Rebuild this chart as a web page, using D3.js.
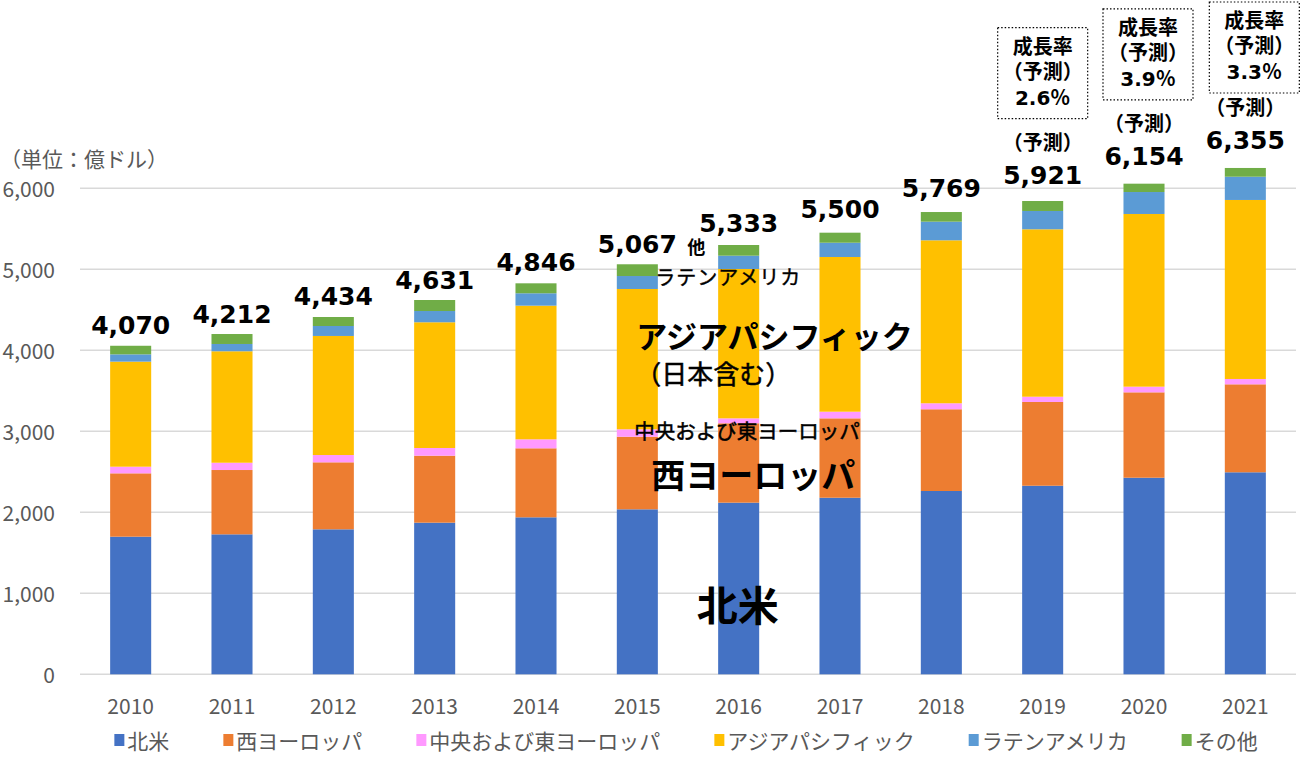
<!DOCTYPE html>
<html>
<head>
<meta charset="utf-8">
<script src="https://cdn.jsdelivr.net/npm/d3@7.9.0/dist/d3.min.js"></script>
<style>
  body { margin: 0; background: #fff; }
  svg { display: block; }
  .tick-label { font-family: "Noto Sans CJK JP", "Noto Sans", sans-serif; font-size: 21px; fill: #595959; }
  .total { font-family: "DejaVu Sans", "Noto Sans CJK JP", sans-serif; font-weight: bold; font-size: 25px; fill: #000; }
  .note { font-family: "DejaVu Sans", "Noto Sans CJK JP", sans-serif; font-weight: bold; font-size: 20px; fill: #000; }
  .region { font-family: "Noto Sans CJK JP", sans-serif; fill: #000; }
</style>
</head>
<body>
<svg id="chart"></svg>
<script>
const years = ['2010', '2011', '2012', '2013', '2014', '2015', '2016', '2017', '2018', '2019', '2020', '2021'];
const northAmerica = [1699, 1728, 1790, 1872, 1938, 2037, 2119, 2180, 2263, 2328, 2427, 2494];
const westernEurope = [782, 794, 827, 827, 852, 896, 980, 980, 1009, 1034, 1054, 1086];
const centralEastEurope = [82, 90, 90, 95, 111, 92, 61, 82, 74, 65, 70, 66];
const asiaPacific = [1297, 1376, 1470, 1552, 1650, 1732, 1844, 1910, 2012, 2067, 2132, 2210];
const latinAmerica = [90, 90, 123, 139, 153, 160, 164, 176, 230, 226, 271, 287];
const others = [106, 123, 111, 136, 123, 145, 132, 124, 119, 123, 103, 108];
const totalLabels = [4070, 4212, 4434, 4631, 4846, 5067, 5333, 5500, 5769, 5921, 6154, 6355];
const yTicks = [0, 1000, 2000, 3000, 4000, 5000, 6000];
const forecastYears = ['2019', '2020', '2021'];
const growthRates = ['2.6％', '3.9％', '3.3％'];

const seriesNames = ['北米', '西ヨーロッパ', '中央および東ヨーロッパ', 'アジアパシフィック', 'ラテンアメリカ', 'その他'];
const seriesValues = [northAmerica, westernEurope, centralEastEurope, asiaPacific, latinAmerica, others];
const colors = ['#4472C4', '#ED7D31', '#FF99FF', '#FFC000', '#5B9BD5', '#70AD47'];

const width = 1300;
const height = 757;

const table = years.map((year, i) => {
  const row = { year };
  seriesNames.forEach((name, j) => { row[name] = seriesValues[j][i]; });
  return row;
});

const svg = d3.select('#chart').attr('width', width).attr('height', height);

const x = d3.scaleBand().domain(years).range([80, 1296]).paddingInner(0.595).paddingOuter(0.2975);
const y = d3.scaleLinear().domain([0, 6000]).range([674.3, 188.3]);
const cx = yr => x(yr) + x.bandwidth() / 2;

// gridlines
svg.append('g')
  .selectAll('line')
  .data(yTicks)
  .join('line')
  .attr('x1', 80)
  .attr('x2', 1296)
  .attr('y1', d => y(d))
  .attr('y2', d => y(d))
  .attr('stroke', '#d9d9d9')
  .attr('stroke-width', 1.5);

// y labels
svg.append('g')
  .selectAll('text')
  .data(yTicks)
  .join('text')
  .attr('class', 'tick-label')
  .attr('x', 55)
  .attr('y', d => y(d))
  .attr('text-anchor', 'end')
  .attr('dominant-baseline', 'central')
  .text(d => d3.format(',')(d));

svg.append('text')
  .attr('class', 'tick-label')
  .attr('x', 0)
  .attr('y', 158)
  .attr('dominant-baseline', 'central')
  .text('（単位：億ドル）');

// x labels
svg.append('g')
  .selectAll('text')
  .data(years)
  .join('text')
  .attr('class', 'tick-label')
  .attr('x', d => cx(d))
  .attr('y', 705)
  .attr('text-anchor', 'middle')
  .attr('dominant-baseline', 'central')
  .text(d => d);

// stacked bars
const stacked = d3.stack().keys(seriesNames)(table);

svg.append('g')
  .selectAll('g')
  .data(stacked)
  .join('g')
  .attr('fill', (d, i) => colors[i])
  .selectAll('rect')
  .data(d => d)
  .join('rect')
  .attr('x', d => x(d.data.year))
  .attr('width', x.bandwidth())
  .attr('y', d => y(d[1]))
  .attr('height', d => y(d[0]) - y(d[1]));

// totals
const labelY = i => y(totalLabels[i]) - 19;

svg.append('g')
  .selectAll('text')
  .data(years)
  .join('text')
  .attr('class', 'total')
  .attr('x', d => cx(d))
  .attr('y', (d, i) => labelY(i))
  .attr('text-anchor', 'middle')
  .attr('dominant-baseline', 'central')
  .text((d, i) => d3.format(',')(totalLabels[i]));

// forecast notes
const boxShift = [0, 4, 9];
forecastYears.forEach((yr, k) => {
  const i = years.indexOf(yr);
  const c = labelY(i);
  const g = svg.append('g');
  g.append('text')
    .attr('class', 'note')
    .attr('x', cx(yr))
    .attr('y', c - 33)
    .attr('text-anchor', 'middle')
    .attr('dominant-baseline', 'central')
    .text('（予測）');

  const top = Math.max(2, c - 148);
  const bx = cx(yr) + boxShift[k];
  g.append('rect')
    .attr('x', bx - 45)
    .attr('y', top)
    .attr('width', 90)
    .attr('height', 91)
    .attr('fill', 'none')
    .attr('stroke', '#000')
    .attr('stroke-width', 1.2)
    .attr('stroke-dasharray', '1.5,2');
  ['成長率', '（予測）', growthRates[k]].forEach((t, j) => {
    g.append('text')
      .attr('class', 'note')
      .attr('x', bx)
      .attr('y', top + [19, 44, 70][j])
      .attr('text-anchor', 'middle')
      .attr('dominant-baseline', 'central')
      .text(t);
  });
});

// region labels on the chart
const regionLabels = [
  { text: '他', year: '2015', dx: 50, value: 5290, size: 18, weight: 'bold', anchor: 'start', spacing: 0, stroke: 0 },
  { text: 'ラテンアメリカ', year: '2015', dx: 18, value: 4905, size: 20, weight: 'normal', anchor: 'start', spacing: 1, stroke: 0.4 },
  { text: 'アジアパシフィック', year: '2015', dx: -1, value: 4190, size: 31, weight: 'bold', anchor: 'start', spacing: 0, stroke: 0 },
  { text: '（日本含む）', year: '2015', dx: -2, value: 3730, size: 26, weight: 'normal', anchor: 'start', spacing: 0, stroke: 0.5 },
  { text: '中央および東ヨーロッパ', year: '2015', dx: -3, value: 3015, size: 20.5, weight: 'normal', anchor: 'start', spacing: 0, stroke: 0.5 },
  { text: '西ヨーロッパ', year: '2015', dx: 14, value: 2480, size: 34, weight: 'bold', anchor: 'start', spacing: 0, stroke: 0 },
  { text: '北米', year: '2016', dx: -1, value: 880, size: 41, weight: 'bold', anchor: 'middle', spacing: 0, stroke: 0 }
];

svg.append('g')
  .selectAll('text')
  .data(regionLabels)
  .join('text')
  .attr('class', 'region')
  .attr('x', d => cx(d.year) + d.dx)
  .attr('y', d => y(d.value))
  .attr('text-anchor', d => d.anchor)
  .attr('dominant-baseline', 'central')
  .attr('stroke', d => d.stroke ? '#000' : 'none')
  .attr('stroke-width', d => d.stroke)
  .style('font-size', d => d.size + 'px')
  .style('font-weight', d => d.weight)
  .style('letter-spacing', d => d.spacing + 'px')
  .text(d => d.text);

// legend
const legend = svg.append('g').attr('transform', 'translate(0, 740)');
const items = legend.selectAll('g')
  .data(seriesNames)
  .join('g');

items.append('rect')
  .attr('width', 10)
  .attr('height', 12)
  .attr('y', -6)
  .attr('fill', (d, i) => colors[i]);

items.append('text')
  .attr('class', 'tick-label')
  .attr('x', 13)
  .attr('dominant-baseline', 'central')
  .text(d => d);

const widths = [];
items.each(function () {
  widths.push(this.getBBox().width);
});
const gap = 54;
let offset = 686 - (d3.sum(widths) + gap * (widths.length - 1)) / 2;
items.attr('transform', (d, i) => {
  const pos = offset;
  offset += widths[i] + gap;
  return `translate(${pos}, 0)`;
});
</script>
</body>
</html>
